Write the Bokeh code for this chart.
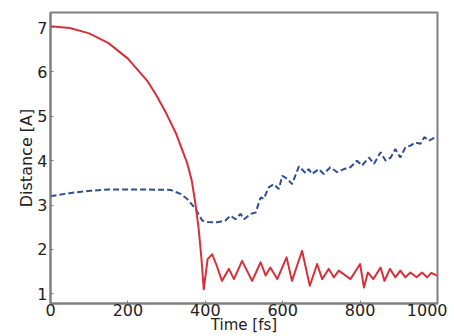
from bokeh.plotting import figure
from bokeh.models import FixedTicker, Range1d
from bokeh.embed import file_html
from bokeh.resources import INLINE

# Red curve: distance vs time
red_t = [0, 50, 100, 150, 200, 250, 275, 300, 325, 340, 353, 365, 375, 383, 390, 396,
         406, 418, 430, 443, 461, 474, 495, 521, 543, 556, 568, 586, 610, 624, 650, 670,
         689, 702, 719, 732, 745, 775, 800, 810, 820, 834, 853, 863, 877, 891,
         904, 917, 930, 946, 960, 973, 984, 999]
red_d = [7.03, 6.99, 6.87, 6.65, 6.30, 5.80, 5.45, 5.05, 4.60, 4.25, 3.95, 3.55, 3.00, 2.45, 1.80, 1.10,
         1.78, 1.89, 1.62, 1.29, 1.56, 1.33, 1.74, 1.29, 1.71, 1.41, 1.59, 1.33, 1.82, 1.29, 1.97, 1.18,
         1.67, 1.33, 1.56, 1.37, 1.52, 1.33, 1.67, 1.14, 1.48, 1.33, 1.59, 1.29, 1.56, 1.37,
         1.52, 1.37, 1.48, 1.37, 1.48, 1.37, 1.47, 1.41]

# Blue dashed curve
blue_t = [0, 60, 103, 150, 200, 250, 310, 336, 353, 375, 392, 405, 431, 452, 465, 478, 491, 500,
          517, 530, 543, 551, 564, 577, 590, 599, 612, 624, 642, 659, 667, 676, 693, 706,
          723, 741, 758, 775, 792, 805, 823, 836, 853, 866, 879, 891, 904, 917, 930, 943,
          956, 966, 978, 995, 1000]
blue_d = [3.20, 3.28, 3.32, 3.35, 3.35, 3.35, 3.34, 3.25, 3.14, 2.91, 2.65, 2.62, 2.61, 2.65, 2.76, 2.68, 2.80, 2.68,
          2.80, 2.83, 3.17, 3.14, 3.40, 3.47, 3.36, 3.66, 3.59, 3.47, 3.87, 3.72, 3.81, 3.70, 3.81, 3.70,
          3.85, 3.74, 3.81, 3.85, 4.00, 3.89, 4.07, 3.93, 4.19, 4.00, 4.07, 4.26, 4.07, 4.30, 4.34, 4.41,
          4.38, 4.53, 4.45, 4.53, 4.55]

x_ticks = [0, 200, 400, 600, 800, 1000]
y_ticks = [1, 2, 3, 4, 5, 6, 7]

p = figure(width=447, height=336, output_backend="svg", toolbar_location=None,
           x_range=Range1d(0, 1000), y_range=Range1d(0.78, 7.34),
           min_border_left=50, min_border_right=10, min_border_top=12, min_border_bottom=33)

p.line(blue_t, blue_d, line_color="#2e4e94", line_width=2, line_dash="6 3")
p.line(red_t, red_d, line_color="#d8303a", line_width=2, line_join="round")

p.xgrid.visible = False
p.ygrid.visible = False
p.outline_line_color = "#808080"
p.outline_line_width = 2
p.background_fill_color = "white"

p.xaxis.ticker = FixedTicker(ticks=x_ticks)
p.yaxis.ticker = FixedTicker(ticks=y_ticks)
p.xaxis.axis_label = "Time [fs]"
p.yaxis.axis_label = "Distance [A]"

for ax in (p.xaxis, p.yaxis):
    ax.axis_line_color = "#808080"
    ax.axis_line_width = 2
    ax.major_tick_line_color = "#808080"
    ax.major_tick_in = 3
    ax.major_tick_out = 0
    ax.minor_tick_line_color = None
    ax.major_label_text_font = "DejaVu Sans"
    ax.major_label_text_font_size = "16px"
    ax.major_label_text_color = "#222222"
    ax.axis_label_text_font = "DejaVu Sans"
    ax.axis_label_text_font_size = "16px"
    ax.axis_label_text_font_style = "normal"
    ax.axis_label_text_color = "#222222"

p.xaxis.axis_label_text_font_size = "15px"
p.xaxis.major_label_standoff = 0
p.xaxis.axis_label_standoff = -3
p.yaxis.major_label_standoff = 3
p.yaxis.axis_label_standoff = -2

open("out.html", "w").write(file_html(p, INLINE))
